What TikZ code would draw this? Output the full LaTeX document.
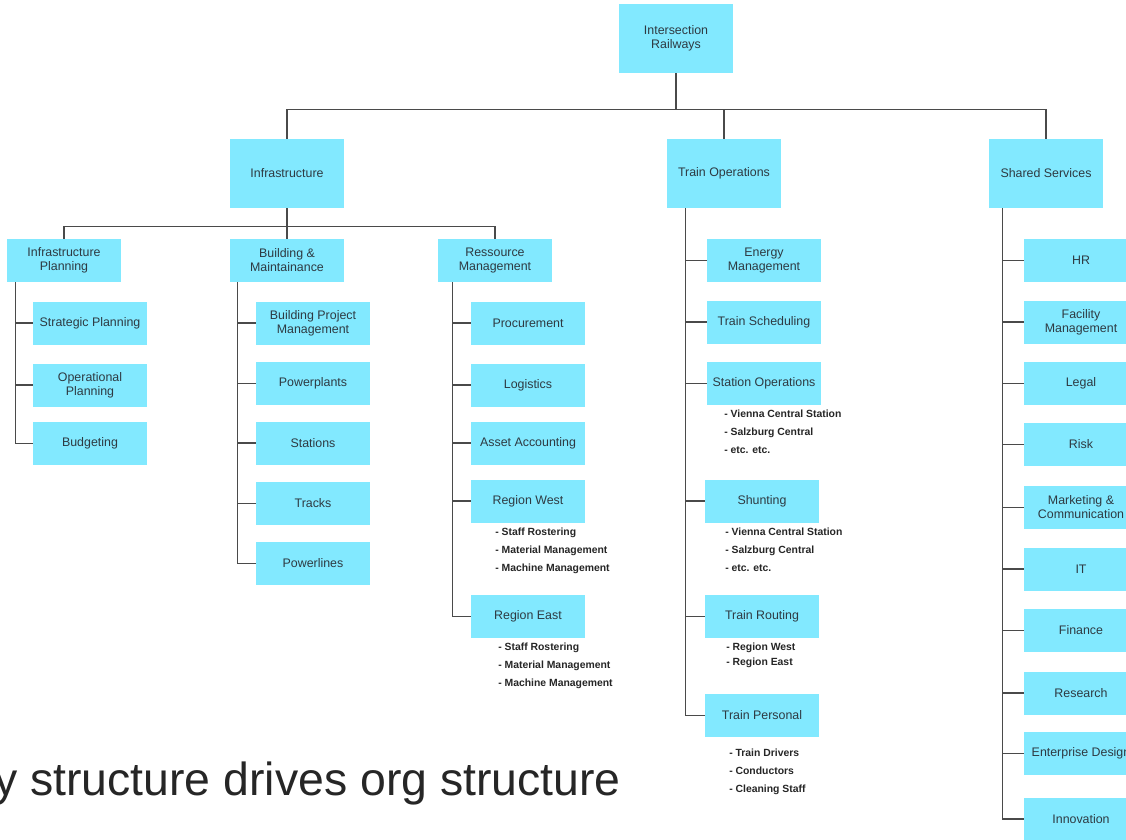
\documentclass[tikz,border=0pt]{standalone}
\usepackage{fontspec}
\setmainfont{Liberation Sans}
\usetikzlibrary{positioning}

\definecolor{boxcyan}{HTML}{82E9FF}
\definecolor{boxtext}{HTML}{2E3A42}
\definecolor{linegray}{HTML}{4A4A4A}
\definecolor{tagtext}{HTML}{262626}

\begin{document}
\begin{tikzpicture}[
    x=0.75pt, y=-0.75pt,
    unit/.style={rectangle, fill=boxcyan, text=boxtext, minimum width=85.5pt, minimum height=32.25pt, inner sep=1pt, align=center, font=\fontsize{9.3}{10.5}\selectfont},
    headunit/.style={unit, minimum height=51.75pt},
    note/.style={anchor=north west, inner sep=0pt, align=left, text=black!85, font=\fontsize{7.8}{13.5}\selectfont\bfseries},
    conn/.style={draw=linegray, line width=0.9pt}
]

% Canvas
\useasboundingbox (0,0) rectangle (1126,839);
\clip (0,0) rectangle (1126,839);
\fill[white] (0,0) rectangle (1126,839);

% Top level
\node[headunit] (rail) at (676,38.5) {Intersection\\Railways};

% Divisions
\node[headunit] (infra) at (287,173.5) {Infrastructure};
\node[headunit] (trainops) at (724,173.5) {Train Operations};
\node[headunit] (shared) at (1046,173.5) {Shared Services};

% Infrastructure departments
\node[unit] (infplan) at (64,260.5) {Infrastructure\\Planning};
\node[unit] (buildmaint) at (287,260.5) {Building \&\\Maintainance};
\node[unit] (resmgmt) at (495,260.5) {Ressource\\Management};

% Infrastructure Planning
\node[unit] (strat) at (90,323) {Strategic Planning};
\node[unit] (operplan) at (90,385) {Operational\\Planning};
\node[unit] (budget) at (90,443.5) {Budgeting};

% Building & Maintainance
\node[unit] (buildproj) at (313,323) {Building Project\\Management};
\node[unit] (powerplants) at (313,383.5) {Powerplants};
\node[unit] (stations) at (313,443) {Stations};
\node[unit] (tracks) at (313,503.5) {Tracks};
\node[unit] (powerlines) at (313,563.5) {Powerlines};

% Ressource Management
\node[unit] (procure) at (528,323) {Procurement};
\node[unit] (logistics) at (528,385) {Logistics};
\node[unit] (assetacc) at (528,443) {Asset Accounting};
\node[unit] (regwest) at (528,501) {Region West};
\node[unit] (regeast) at (528,616.5) {Region East};
\node[note] (regwestnote) at (495,528) {- Staff Rostering\\- Material Management\\- Machine Management};
\node[note] (regeastnote) at (498,643) {- Staff Rostering\\- Material Management\\- Machine Management};

% Train Operations
\node[unit] (energy) at (764,260.5) {Energy\\Management};
\node[unit] (sched) at (764,322) {Train Scheduling};
\node[unit] (statops) at (764,383.5) {Station Operations};
\node[unit] (shunt) at (762,501) {Shunting};
\node[unit] (routing) at (762,616.5) {Train Routing};
\node[unit] (personal) at (762,715.5) {Train Personal};
\node[note] (statopsnote) at (724,410) {- Vienna Central Station\\- Salzburg Central\\- etc. etc.};
\node[note] (shuntnote) at (725,528) {- Vienna Central Station\\- Salzburg Central\\- etc. etc.};
\node[note, font=\fontsize{7.8}{11.3}\selectfont\bfseries] (routingnote) at (726,643) {- Region West\\- Region East};
\node[note] (personalnote) at (729,749) {- Train Drivers\\- Conductors\\- Cleaning Staff};

% Shared Services
\node[unit] (hr) at (1081,260.5) {HR};
\node[unit] (facility) at (1081,322) {Facility\\Management};
\node[unit] (legal) at (1081,383.5) {Legal};
\node[unit] (risk) at (1081,444.5) {Risk};
\node[unit] (marketing) at (1081,507.5) {Marketing \&\\Communication};
\node[unit] (it) at (1081,569) {IT};
\node[unit] (finance) at (1081,630.5) {Finance};
\node[unit] (research) at (1081,693) {Research};
\node[unit] (entdesign) at (1081,753.5) {Enterprise Design};
\node[unit] (innov) at (1081,819) {Innovation};

% Tagline
\node[anchor=base east, inner sep=0pt, text=tagtext, font=\fontsize{34.8}{40}\selectfont] (tagline) at (621,795) {y structure drives org structure};

% Connectors: top level
\draw[conn] (rail.south) -- ++(0,36) -| (infra.north);
\draw[conn] (rail.south) -- ++(0,36) -| (shared.north);
\draw[conn] (rail.south) -- ++(0,36) -| (trainops.north);

% Connectors: infrastructure
\foreach \d in {infplan,buildmaint,resmgmt}
  \draw[conn] (infra.south) -- ++(0,18.5) -| (\d.north);

% Connectors: department bars
\coordinate (infplanbar) at ([xshift=6.75pt]infplan.south west);
\coordinate (buildbar) at ([xshift=6pt]buildmaint.south west);
\coordinate (resbar) at ([xshift=11.25pt]resmgmt.south west);
\coordinate (trainbar) at ([xshift=14.25pt]trainops.south west);
\coordinate (sharedbar) at ([xshift=10.5pt]shared.south west);

\foreach \c in {strat,operplan,budget}
  \draw[conn] (infplanbar) |- (\c.west);
\foreach \c in {buildproj,powerplants,stations,tracks,powerlines}
  \draw[conn] (buildbar) |- (\c.west);
\foreach \c in {procure,logistics,assetacc,regwest,regeast}
  \draw[conn] (resbar) |- (\c.west);
\foreach \c in {energy,sched,statops,shunt,routing,personal}
  \draw[conn] (trainbar) |- (\c.west);
\foreach \c in {hr,facility,legal,risk,marketing,it,finance,research,entdesign,innov}
  \draw[conn] (sharedbar) |- (\c.west);

\end{tikzpicture}
\end{document}
